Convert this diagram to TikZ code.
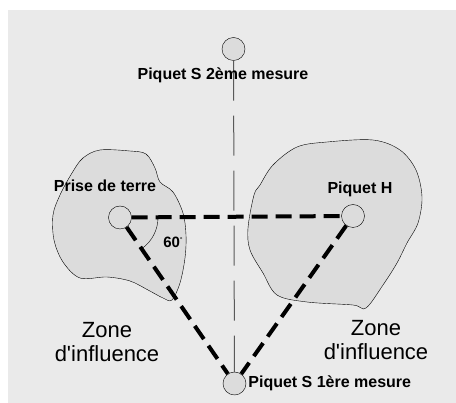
\documentclass[tikz,border=0pt]{standalone}
\usepackage{fontspec}
\setmainfont{Liberation Sans}
\usepackage{tikz}
\usetikzlibrary{positioning,arrows.meta}
\definecolor{fond}{HTML}{EAEAEA}
\definecolor{sol}{HTML}{DCDCDC}
\tikzset{
  piquet/.style={
    circle,
    draw,
    thin,
    fill=sol,
    minimum size=23pt,
    inner sep=0pt
  },
  lbl/.style={
    font=\fontsize{16}{18}\selectfont\bfseries,
    inner sep=1pt
  },
  zone/.style={
    font=\fontsize{22}{24}\selectfont,
    align=center,
    inner sep=1pt
  },
  link/.style={
    line width=4pt,
    dash pattern=on 16pt off 8pt
  },
  axe/.style={
    gray!70!black,
    line width=1pt,
    dash pattern=on 40pt off 15pt
  },
  blob/.style={
    draw,
    thin,
    fill=sol
  }
}

\begin{document}
\begin{tikzpicture}[x=1pt,y=-1pt]

\useasboundingbox (0,0) rectangle (456,403);
\fill[fond] (8,10) rectangle (456,403);

% zones d'influence
\draw[blob] plot[smooth cycle, tension=0.55] coordinates {
(83,158) (100,150) (130,151) (146,154) (155,168) (160,182) (173,192)
(183,213) (186,235) (185,258) (180,283) (172,300) (163,298) (148,290)
(130,281) (107,277) (80,278) (63,262) (54,240) (53,215) (60,195) (72,173)};
\draw[blob] plot[smooth cycle, tension=0.55] coordinates {
(273,165) (297,147) (327,142) (373,140) (400,150) (416,170) (422,197)
(418,223) (407,243) (397,263) (383,285) (366,308) (353,305) (307,302)
(277,295) (263,273) (250,250) (248,228) (254,195) (260,185)};

\node[piquet] (s2) at (233.5,49) {};
\node[piquet] (prise) at (120,217.5) {};
\node[piquet] (hpiq) at (353,216) {};
\node[piquet] (s1) at (234.5,383.5) {};

\draw[axe] (s2) -- (s1);

\draw[link] (prise) -- (hpiq);
\draw[link] (prise) -- (s1);
\draw[link] (hpiq) -- (s1);

\draw[thin] (prise.center) ++(38,0) arc[start angle=0, end angle=55, radius=38];

\node[lbl] (s2lbl) at (223,75) {Piquet S 2ème mesure};
\node[lbl] (priselbl) at (105,186) {Prise de terre};
\node[lbl] (hlbl) at (360,189) {Piquet H};
\node[lbl, font=\fontsize{15}{17}\selectfont\bfseries] (angle) at (173,242) {60\raisebox{5pt}{\fontsize{7}{8}\selectfont\mdseries °}};
\node[lbl, right=1pt of s1] (s1lbl) {Piquet S 1ère mesure};

\node[zone] (zoneg) at (107,342) {Zone\\d\textquotesingle influence};
\node[zone] (zoned) at (376,340) {Zone\\d\textquotesingle influence};

\end{tikzpicture}
\end{document}
